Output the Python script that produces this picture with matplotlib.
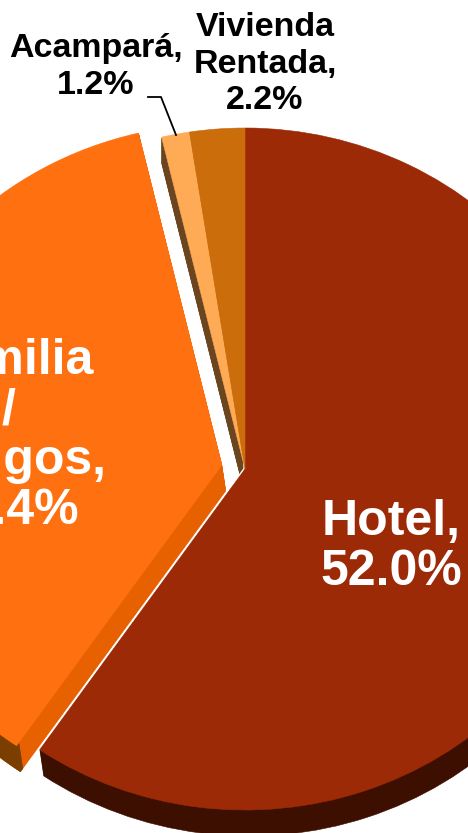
import matplotlib
matplotlib.use('Agg')
import matplotlib.pyplot as plt

# printed labels
labels = ['Hotel,\n52.0%', 'Familia\n/\nAmigos,\n44.4%', 'Acampará,\n1.2%', 'Vivienda\nRentada,\n2.2%']
# slice shares as drawn in the picture (they differ from the printed ones)
shares = [59.6, 36.7, 1.25, 2.45]
top_colors = ['#9C2A07', '#FF7010', '#FFAA55', '#CB6D0B']
cut_colors = ['#3D0F00', '#E86100', '#6B4520', '#6B4520']
explode = [0, 0.065, 0, 0]

W, H = 468, 833
cx, cy, rx, ry = 245, 469, 362, 341
depth = 26

plt.rcParams['font.family'] = ['Liberation Sans', 'DejaVu Sans']
fig = plt.figure(figsize=(W / 100, H / 100), dpi=100)
fig.set_facecolor('w')
ax = fig.add_axes([0, 0, 1, 1])


def layer(which, colors, dy=0.0, dx=0.0, width=None, edge=None, lw=0.4):
    # draw only the slices in "which", everything else stays transparent
    cols = [colors[i] if i in which else 'none' for i in range(4)]
    wp = {'linewidth': 0}
    if width:
        wp['width'] = width
    wedges, _ = ax.pie(shares, colors=cols, explode=explode, startangle=90, counterclock=False,
                       center=(dx, -dy), wedgeprops=wp, frame=True)
    for i, w in enumerate(wedges):
        w.set_visible(i in which)
        if i in which:
            # thin stroke so the copies close up without seams
            w.set_edgecolor(edge or colors[i])
            w.set_linewidth(lw)


# family slice with its cut face and outer side
for d in range(depth, 0, -1):
    layer([1], cut_colors, dy=d / ry, dx=d * 0.15 / rx)
for d in range(depth, 0, -1):
    layer([1], ['', '#7A3F00', '', ''], dy=d / ry, dx=d * 0.15 / rx, width=0.012)
layer([1], top_colors)

# camping and rented house sides, seen through the gap
for d in range(depth, 0, -1):
    layer([2, 3], cut_colors, dy=d / ry)

# white rim that separates the hotel from the family slice, then the hotel side
layer([0], top_colors, edge='white', lw=2.4)
for d in range(depth, 0, -1):
    layer([0], cut_colors, dy=d / ry, dx=d * 0.15 / rx)
layer([0], top_colors)
layer([2, 3], top_colors)

ax.set_aspect('auto')
ax.set_xlim(-cx / rx, (W - cx) / rx)
ax.set_ylim(-(H - cy) / ry, cy / ry)
ax.set_xticks([])
ax.set_yticks([])
ax.set_frame_on(False)


def px(x, y):
    return (x - cx) / rx, (cy - y) / ry


ax.text(*px(391, 547), labels[0], color='w', fontsize=36, fontweight='bold', ha='center', va='center', linespacing=1.12)
ax.text(*px(8, 436), labels[1], color='w', fontsize=36, fontweight='bold', ha='center', va='center', linespacing=1.12)
ax.text(*px(96, 67), labels[2], color='k', fontsize=24.5, fontweight='bold', ha='center', va='center', linespacing=1.23)
ax.text(*px(265, 64), labels[3], color='k', fontsize=24.5, fontweight='bold', ha='center', va='center', linespacing=1.23)

# leader line of the camping label
ax.plot(*zip(px(148, 97), px(161, 97), px(176, 135)), color='k', lw=1.3)

fig.savefig('out.png', dpi=100)
